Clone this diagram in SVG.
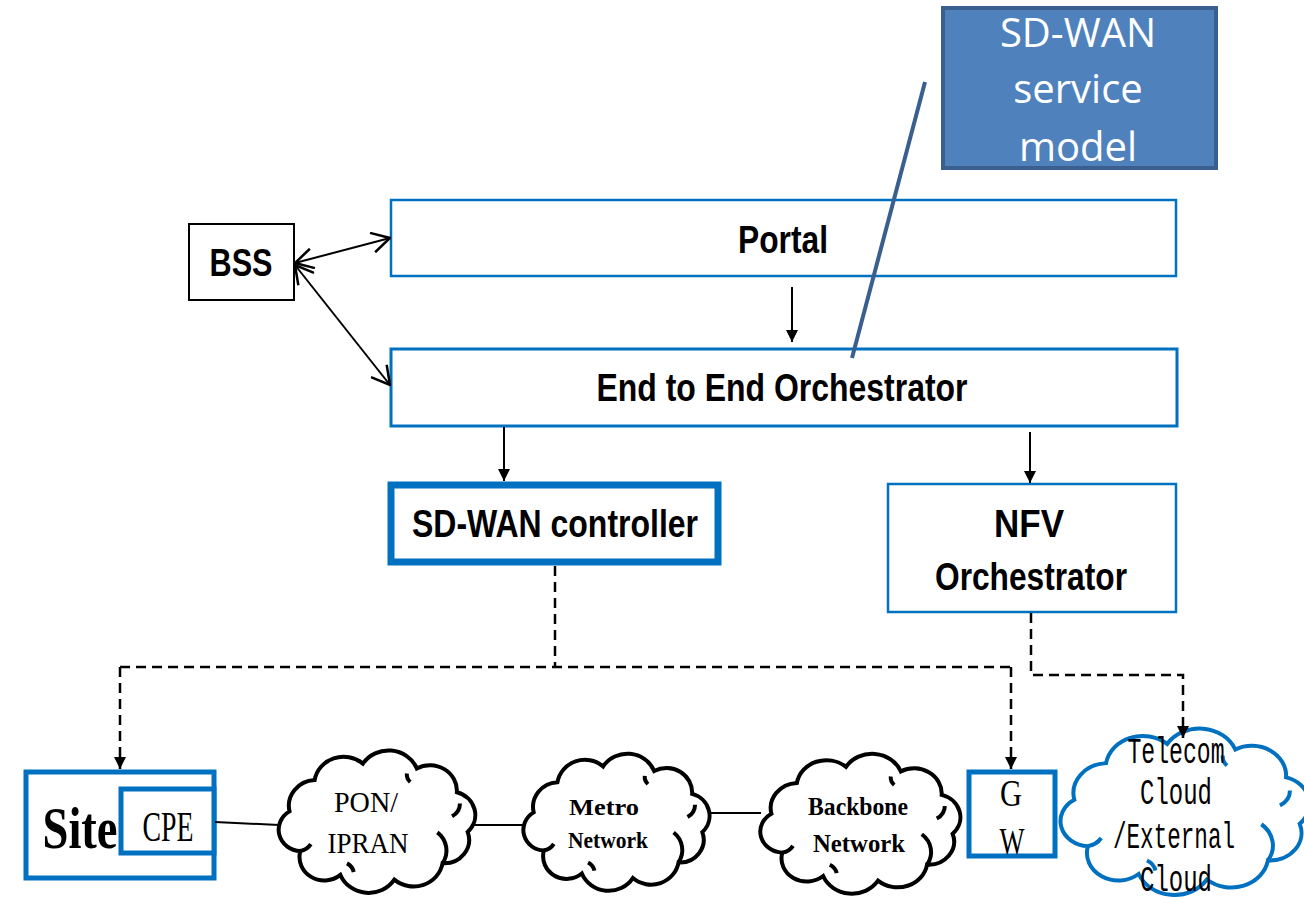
<svg xmlns="http://www.w3.org/2000/svg" xmlns:xlink="http://www.w3.org/1999/xlink" width="1304" height="899" viewBox="0 0 1304 899">
<style>
.box{fill:#fff;stroke:#0070C0;}
.lbl{font-family:"Liberation Sans",Arial,sans-serif;font-weight:bold;fill:#000;text-anchor:middle;}
.ser{font-family:"Liberation Serif","Times New Roman",serif;fill:#000;text-anchor:middle;}
.mono{font-family:"Liberation Mono","Courier New",monospace;fill:#000;text-anchor:middle;}
.solid{stroke:#000;stroke-width:2;fill:none;}
.dash{stroke:#000;stroke-width:2.5;fill:none;stroke-dasharray:10 6;}
.cl{fill:#fff;stroke-width:4;}
</style>
<defs>
<marker id="af" viewBox="0 0 12 16" refX="12" refY="8" markerWidth="12" markerHeight="16" markerUnits="userSpaceOnUse" orient="auto">
<path d="M0,2 L12,8 L0,14 Z" fill="#000"/>
</marker>
<marker id="ao" viewBox="0 0 20 22" refX="19" refY="11" markerWidth="20" markerHeight="22" markerUnits="userSpaceOnUse" orient="auto-start-reverse">
<path d="M1,1 L19,11 L1,21" fill="none" stroke="#000" stroke-width="2.5"/>
</marker>
<g id="cloud">
<path vector-effect="non-scaling-stroke" d="M21.2,65.4 A24,24 0 0 1 43.4,36.1 A26,26 0 0 1 86.1,20.8 A27,27 0 0 1 133.8,25.2 A24,24 0 0 1 169.3,47.5 A22,22 0 0 1 178.8,84.6 A22,22 0 0 1 156.6,113.9 A26,26 0 0 1 113.9,129.2 A27,27 0 0 1 66.2,124.8 A22,22 0 0 1 30.7,102.5 A20,20 0 0 1 21.2,65.4 Z"/>
<path vector-effect="non-scaling-stroke" fill="none" d="M30.7,102.5 A14,14 0 0 0 40,96 M165,70 A14,14 0 0 0 172,58 M152,85 A22,22 0 0 1 156.6,113.9 M78,122 A12,12 0 0 0 72,114 M125,30 A10,10 0 0 0 128,38"/>
</g>
</defs>
<g id="sdwan-model">
<rect x="943" y="8" width="273" height="160" fill="#4F81BD" stroke="#3A5F8F" stroke-width="4"/>
<text font-family="'Open Sans','Noto Sans',sans-serif" font-size="40" fill="#fff" text-anchor="middle"><tspan x="1078" y="47">SD-WAN</tspan><tspan x="1078" y="103">service</tspan><tspan x="1078" y="161">model</tspan></text>
</g>
<g id="bss">
<rect x="189" y="224" width="105" height="76" fill="#fff" stroke="#000" stroke-width="2"/>
<text class="lbl" x="241" y="276" font-size="38" textLength="63" lengthAdjust="spacingAndGlyphs">BSS</text>
</g>
<g id="portal">
<rect class="box" x="391" y="200" width="785" height="76" stroke-width="2.5"/>
<text class="lbl" x="783" y="253" font-size="38" textLength="90" lengthAdjust="spacingAndGlyphs">Portal</text>
</g>
<g id="e2e">
<rect class="box" x="391" y="349" width="786" height="77" stroke-width="3"/>
<text class="lbl" x="782" y="401" font-size="38" textLength="371" lengthAdjust="spacingAndGlyphs">End to End Orchestrator</text>
</g>
<g id="sdwan-controller">
<rect class="box" x="391" y="485" width="327" height="77" stroke-width="7"/>
<text class="lbl" x="555" y="537" font-size="38" textLength="286" lengthAdjust="spacingAndGlyphs">SD-WAN controller</text>
</g>
<g id="nfv">
<rect class="box" x="888" y="484" width="288" height="128" stroke-width="2.5"/>
<text class="lbl" x="1029" y="537" font-size="38" textLength="70" lengthAdjust="spacingAndGlyphs">NFV</text>
<text class="lbl" x="1031" y="590" font-size="38" textLength="192" lengthAdjust="spacingAndGlyphs">Orchestrator</text>
</g>
<g id="site">
<rect class="box" x="26" y="772" width="188" height="106" stroke-width="5"/>
<text class="ser" x="80" y="848" font-size="60" font-weight="bold" textLength="75" lengthAdjust="spacingAndGlyphs">Site</text>
</g>
<g id="cpe">
<rect class="box" x="121" y="789" width="93" height="64" stroke-width="5"/>
<text class="ser" x="168" y="841" font-size="42" textLength="51" lengthAdjust="spacingAndGlyphs">CPE</text>
</g>
<g id="pon">
<use xlink:href="#cloud" class="cl" stroke="#000" transform="translate(265.6,741.4) scale(1.13,1.07)"/>
<text class="ser" x="366" y="812" font-size="30" textLength="64" lengthAdjust="spacingAndGlyphs">PON/</text>
<text class="ser" x="368" y="853" font-size="30" textLength="81" lengthAdjust="spacingAndGlyphs">IPRAN</text>
</g>
<g id="metro">
<use xlink:href="#cloud" class="cl" stroke="#000" transform="translate(511,745) scale(1.07,1.03)"/>
<text class="ser" x="604" y="815" font-size="24" font-weight="bold" textLength="70" lengthAdjust="spacingAndGlyphs">Metro</text>
<text class="ser" x="608" y="848" font-size="24" font-weight="bold" textLength="80" lengthAdjust="spacingAndGlyphs">Network</text>
</g>
<g id="backbone">
<use xlink:href="#cloud" class="cl" stroke="#000" transform="translate(747,745) scale(1.15,1.05)"/>
<text class="ser" x="858" y="815" font-size="26" font-weight="bold" textLength="100" lengthAdjust="spacingAndGlyphs">Backbone</text>
<text class="ser" x="859" y="852" font-size="26" font-weight="bold" textLength="92" lengthAdjust="spacingAndGlyphs">Network</text>
</g>
<g id="gw">
<rect class="box" x="969" y="772" width="86" height="84" stroke-width="5"/>
<text class="ser" x="1011" y="806" font-size="38" textLength="22" lengthAdjust="spacingAndGlyphs">G</text>
<text class="ser" x="1012" y="854" font-size="38" textLength="25" lengthAdjust="spacingAndGlyphs">W</text>
</g>
<g id="telecom">
<use xlink:href="#cloud" class="cl" stroke="#0070C0" transform="translate(1044,718) scale(1.43,1.25)"/>
<text class="mono" x="1176" y="763" font-size="36" textLength="97" lengthAdjust="spacingAndGlyphs">Telecom</text>
<text class="mono" x="1176" y="804" font-size="36" textLength="72" lengthAdjust="spacingAndGlyphs">Cloud</text>
<text class="mono" x="1174" y="848" font-size="36" textLength="122" lengthAdjust="spacingAndGlyphs">/External</text>
<text class="mono" x="1176" y="891" font-size="36" textLength="72" lengthAdjust="spacingAndGlyphs">Cloud</text>
</g>
<g id="connectors">
<line class="solid" x1="295" y1="263" x2="390" y2="238" stroke-width="2.5" marker-start="url(#ao)" marker-end="url(#ao)"/>
<line class="solid" x1="295" y1="265" x2="390" y2="385" stroke-width="2.5" marker-start="url(#ao)" marker-end="url(#ao)"/>
<line class="solid" x1="792" y1="287" x2="792" y2="342" marker-end="url(#af)"/>
<line class="solid" x1="504" y1="427" x2="504" y2="481" marker-end="url(#af)"/>
<line class="solid" x1="1030" y1="432" x2="1030" y2="483" marker-end="url(#af)"/>
<polyline class="dash" points="555,566 555,667"/>
<polyline class="dash" points="120,667 1011,667"/>
<polyline class="dash" points="120,667 120,769" marker-end="url(#af)"/>
<polyline class="dash" points="1011,667 1011,769" marker-end="url(#af)"/>
<polyline class="dash" points="1031,613 1031,675 1183,675 1183,738" marker-end="url(#af)"/>
<line class="solid" x1="215" y1="822" x2="279" y2="825"/>
<line class="solid" x1="474" y1="825" x2="524" y2="825"/>
<line class="solid" x1="709" y1="813" x2="761" y2="813"/>
<line x1="925" y1="82" x2="852" y2="358" stroke="#3A5F8F" stroke-width="4"/>
</g>
</svg>
